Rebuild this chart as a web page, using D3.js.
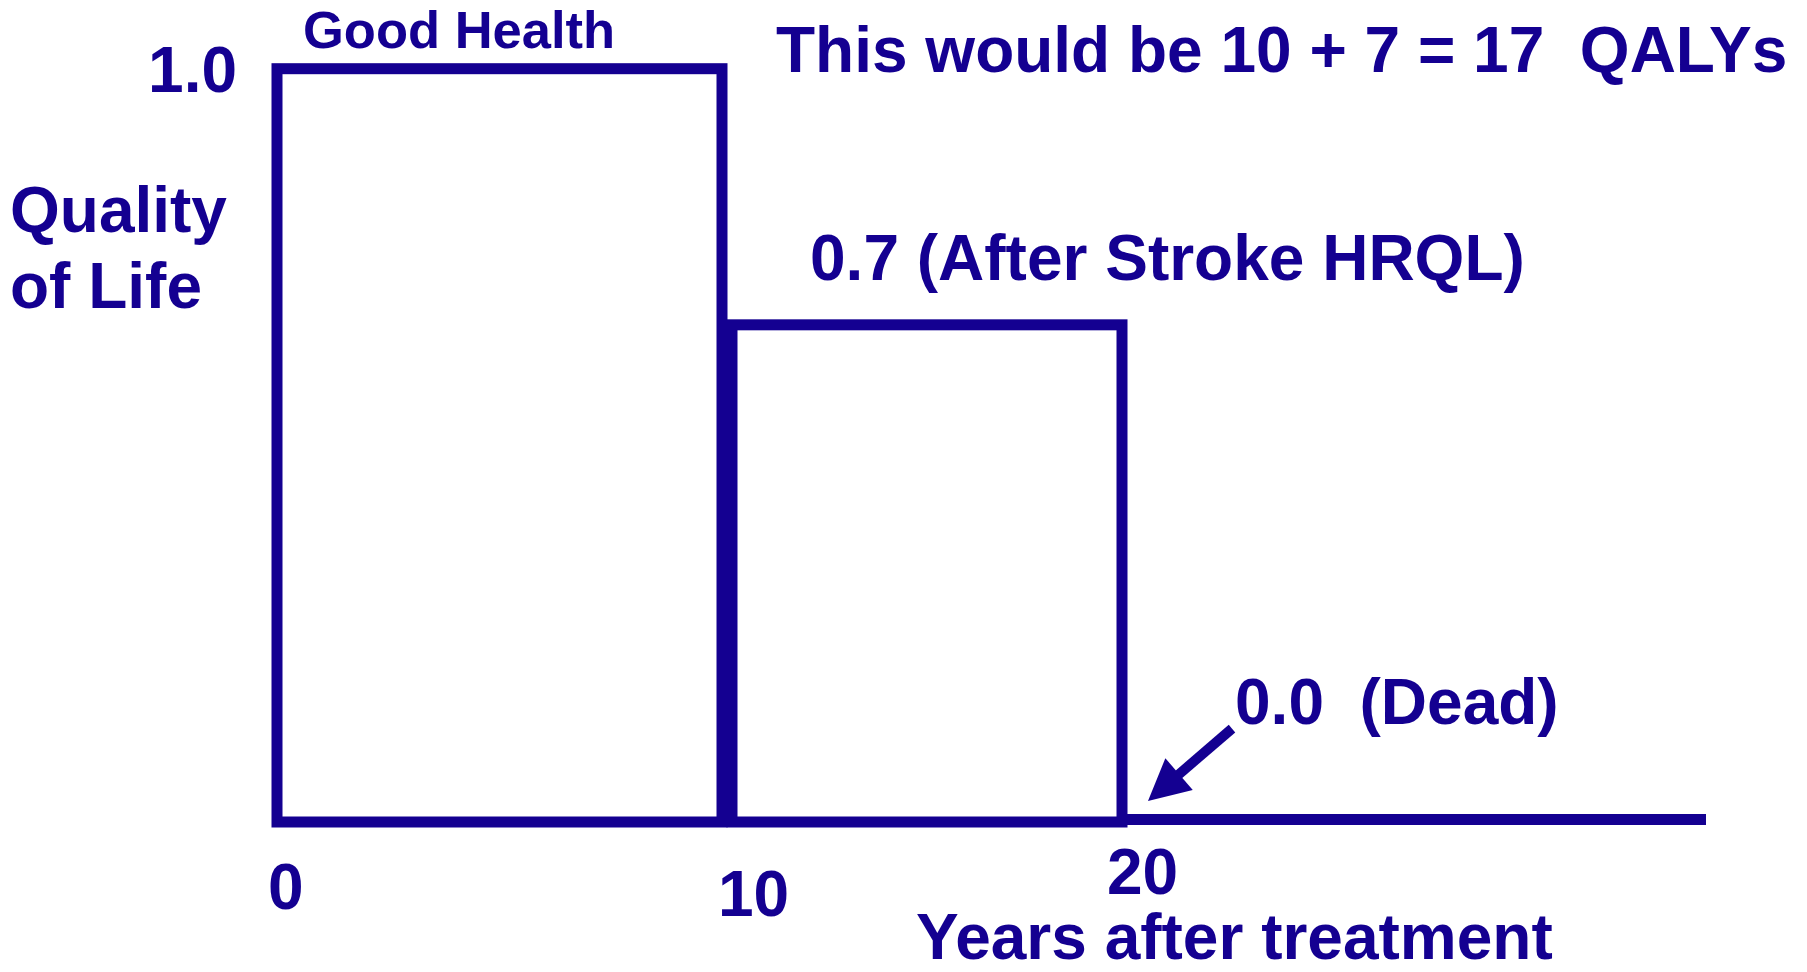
<!DOCTYPE html>
<html>
<head>
<meta charset="utf-8">
<script src="https://cdn.jsdelivr.net/npm/d3@7"></script>
<style>
    body { margin: 0; background: #ffffff; }
    text { font-family: "Liberation Sans", Arial, sans-serif; font-weight: bold; fill: #140091; white-space: pre; }
</style>
</head>
<body>
<svg id="qaly" width="1807" height="972"></svg>
<script>
    //data
    let segments = ["Good Health", "After Stroke", "Dead"],
        startYears = [0, 10.25, 20],
        endYears = [10, 20, 34.6],
        quality = [1.0, 0.66, 0.0],
        tickYears = [0, 10, 20],
        tickLabels = ["0", "10", "20"],
        arrowFrom = [22.75, 0.124],
        arrowTo = [20.65, 0.028];

    let color = "#140091";

    let svg = d3.select("#qaly");

    //define scales (the drawing is not to scale, so x is piecewise)
    let x = d3.scaleLinear().domain([0, 10, 20]).range([277, 722, 1122]),
        y = d3.scaleLinear().domain([0, 1]).range([822, 68.7]);

    let data = segments.map(function(s, i) {
        return {name: s, start: startYears[i], end: endYears[i], q: quality[i]};
    });

    //boxes for the living states
    svg.selectAll(".box")
        .data(data.filter(function(d) { return d.q > 0; }))
        .enter()
        .append("rect")
        .attr("class", "box")
        .attr("x", function(d) { return x(d.start); })
        .attr("y", function(d) { return y(d.q); })
        .attr("width", function(d) { return x(d.end) - x(d.start); })
        .attr("height", function(d) { return y(0) - y(d.q); })
        .style("fill", "none")
        .style("stroke", color)
        .style("stroke-width", 11);

    //flat line for dead
    svg.selectAll(".dead")
        .data(data.filter(function(d) { return d.q === 0; }))
        .enter()
        .append("line")
        .attr("class", "dead")
        .attr("x1", function(d) { return x(d.start); })
        .attr("x2", function(d) { return x(d.end); })
        .attr("y1", function(d) { return y(d.q) - 2.5; })
        .attr("y2", function(d) { return y(d.q) - 2.5; })
        .style("stroke", color)
        .style("stroke-width", 11);

    //arrow pointing to the dead line
    let ax1 = x(arrowFrom[0]), ay1 = y(arrowFrom[1]),
        ax2 = x(arrowTo[0]), ay2 = y(arrowTo[1]);
    let len = Math.hypot(ax2 - ax1, ay2 - ay1),
        ux = (ax2 - ax1) / len, uy = (ay2 - ay1) / len,
        headLen = 41, headHalf = 21;
    let bx = ax2 - ux * headLen, by = ay2 - uy * headLen;
    svg.append("line")
        .attr("x1", ax1).attr("y1", ay1)
        .attr("x2", bx + ux * 2).attr("y2", by + uy * 2)
        .style("stroke", color)
        .style("stroke-width", 10);
    svg.append("polygon")
        .attr("points", [
            [ax2, ay2],
            [bx - uy * headHalf, by + ux * headHalf],
            [bx + uy * headHalf, by - ux * headHalf]
        ].map(function(p) { return p.join(","); }).join(" "))
        .style("fill", color);

    //tick labels along x
    let tickNudge = [{dx: 0, dy: 2}, {dx: 5, dy: 9}, {dx: -6, dy: -13}];
    svg.selectAll(".tick-label")
        .data(tickYears)
        .enter()
        .append("text")
        .attr("class", "tick-label")
        .attr("x", function(d, i) { return x(d) - 9 + tickNudge[i].dx; })
        .attr("y", function(d, i) { return 907 + tickNudge[i].dy; })
        .style("font-size", "64px")
        .text(function(d, i) { return tickLabels[i]; });

    //x axis title
    svg.append("text")
        .attr("x", x(20) - 206)
        .attr("y", 959)
        .style("font-size", "64px")
        .text("Years after treatment");

    //y label and top value
    svg.append("text")
        .attr("x", x(0) - 40)
        .attr("y", y(1) + 23)
        .attr("text-anchor", "end")
        .style("font-size", "64px")
        .text("1.0");

    let ylab = svg.append("text")
        .attr("x", 10)
        .attr("y", 232)
        .style("font-size", "64px");
    ylab.append("tspan").attr("x", 10).text("Quality");
    ylab.append("tspan").attr("x", 10).attr("dy", 76).text("of Life");

    //state labels
    svg.append("text")
        .attr("x", x(startYears[0]) + 26)
        .attr("y", y(quality[0]) - 20.7)
        .style("font-size", "52.5px")
        .text("Good Health");

    svg.append("text")
        .attr("x", x(startYears[1]) + 78)
        .attr("y", y(quality[1]) - 44.5)
        .style("font-size", "64px")
        .text("0.7 (After Stroke HRQL)");

    svg.append("text")
        .attr("x", ax1 + 3)
        .attr("y", ay1 - 5)
        .style("font-size", "64px")
        .text("0.0  (Dead)");

    //headline
    svg.append("text")
        .attr("x", 776)
        .attr("y", 72)
        .style("font-size", "64px")
        .text("This would be 10 + 7 = 17  QALYs");
</script>
</body>
</html>
